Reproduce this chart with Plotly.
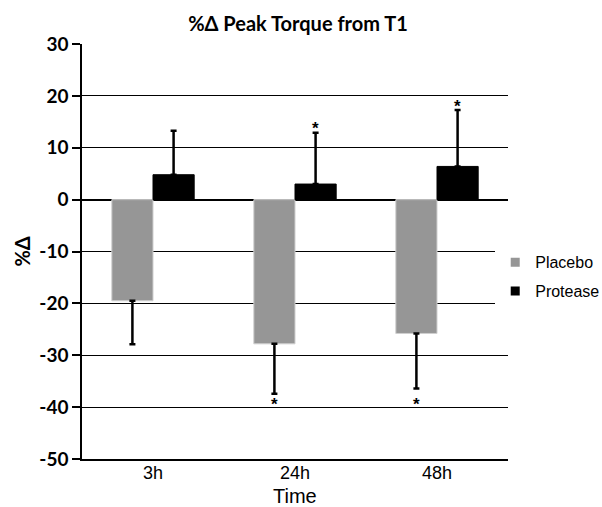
import plotly.graph_objects as go

categories = ["3h", "24h", "48h"]
placebo = [-19.5, -27.8, -25.8]
placebo_err = [8.4, 9.6, 10.6]
protease = [4.8, 3.0, 6.4]
protease_err = [8.5, 9.9, 10.9]
y_ticks = [30, 20, 10, 0, -10, -20, -30, -40, -50]
y_tick_labels = ["30", "20", "10", "0", "-10", "-20", "-30", "-40", "-50"]
# significance markers: (category, series, y position)
stars = [("24h", "Placebo", -39.5), ("48h", "Placebo", -39.5),
         ("24h", "Protease", 13.8), ("48h", "Protease", 18.0)]

PLACEBO_COLOR = "#969696"
PROTEASE_COLOR = "black"

fig = go.Figure()
fig.add_trace(go.Bar(
    name="Placebo", x=categories, y=placebo, showlegend=False,
    marker=dict(color=PLACEBO_COLOR, line=dict(color="#cfcfcf", width=1)),
    error_y=dict(type="data", symmetric=False, array=[0, 0, 0], arrayminus=placebo_err,
                 color="black", thickness=2.5, width=3),
))
fig.add_trace(go.Bar(
    name="Protease", x=categories, y=protease, showlegend=False,
    marker=dict(color=PROTEASE_COLOR, line=dict(color="black", width=1)),
    error_y=dict(type="data", symmetric=False, array=protease_err, arrayminus=[0, 0, 0],
                 color="black", thickness=2.5, width=3),
))
# legend entries (small square swatches as in the reference)
for nm, col, grp in [("Placebo", PLACEBO_COLOR, "a"), ("Protease", PROTEASE_COLOR, "b")]:
    fig.add_trace(go.Scatter(
        x=[None], y=[None], mode="markers", name=nm, legendgroup=grp,
        marker=dict(symbol="square", size=9, color=col, line=dict(width=0)),
    ))

for cat, ser, yv in stars:
    idx = categories.index(cat)
    off = -0.145 if ser == "Placebo" else 0.145
    fig.add_annotation(x=idx + off, y=yv, text="<b>*</b>", showarrow=False,
                       xref="x", yref="y", font=dict(size=17, color="black",
                       family="Liberation Sans"))

# axis titles
fig.add_annotation(x=-0.143, y=0.5, xref="paper", yref="paper", text="<b>%Δ</b>",
                   textangle=-90, showarrow=False, xanchor="center", yanchor="middle",
                   font=dict(family="Lato", size=20, color="black"))
fig.add_annotation(x=0.5, y=-0.088, xref="paper", yref="paper", text="Time",
                   showarrow=False, xanchor="center", yanchor="middle",
                   font=dict(family="Liberation Sans", size=20, color="black"))

fig.update_layout(
    width=602, height=507,
    margin=dict(l=82, r=94, t=44, b=48, autoexpand=False),
    plot_bgcolor="white", paper_bgcolor="white",
    barmode="group", bargap=0.42, bargroupgap=0,
    title=dict(text="<b>%Δ Peak Torque from T1</b>", x=298 / 602, xanchor="center",
               y=1 - 24 / 507, yanchor="middle",
               font=dict(family="Lato", size=20, color="black")),
    legend=dict(x=0.97, y=0.515, xanchor="left", yanchor="top",
                font=dict(family="Liberation Sans", size=16, color="black"),
                traceorder="grouped", tracegroupgap=5, itemwidth=30),
    showlegend=True,
)
fig.update_xaxes(
    type="category", showline=True, linecolor="black", linewidth=1.5,
    ticks="", ticklabelstandoff=-3,
    tickfont=dict(family="Liberation Sans", size=18, color="black"),
    showgrid=False,
)
fig.update_yaxes(
    range=[-50, 30], tickmode="array", tickvals=y_ticks, ticktext=y_tick_labels,
    showline=True, linecolor="black", linewidth=1.5,
    ticks="outside", ticklen=8, tickcolor="black", tickwidth=1.5,
    ticklabelstandoff=0,
    tickfont=dict(family="Lato", size=19, color="black", weight="bold"),
    showgrid=True, gridcolor="black", gridwidth=1.2,
    zeroline=True, zerolinecolor="black", zerolinewidth=1.5,
)

fig.write_html("out.html", config={"displayModeBar": False},
               post_script="document.body.style.margin='0';document.body.style.padding='0';")
